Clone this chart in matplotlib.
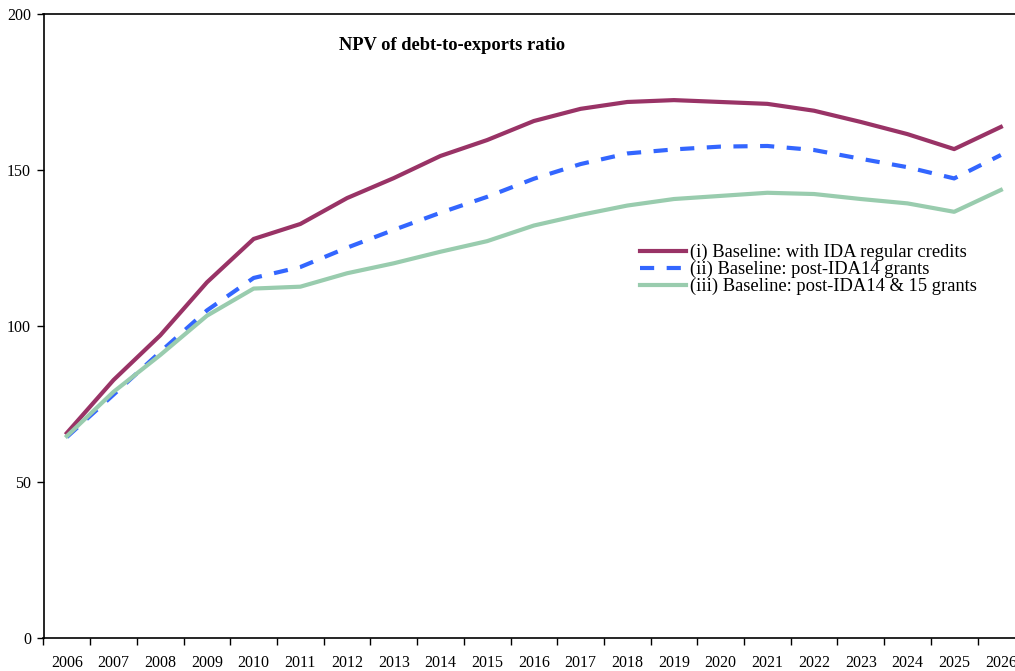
import numpy as np
import matplotlib
matplotlib.use("Agg")
import matplotlib.pyplot as plt
from matplotlib.ticker import FixedLocator, NullFormatter, FixedFormatter

# years on the category axis
years = [str(y) for y in range(2006, 2027)]

# NPV of debt-to-exports ratio, in percent
with_ida_credits = [65.7, 82.7, 97.0, 114.0, 127.9, 132.7, 141.0, 147.4, 154.5, 159.6,
                    165.7, 169.6, 171.8, 172.4, 171.8, 171.2, 169.0, 165.4, 161.5, 156.7, 163.8]
post_ida14 = [64.4, 78.0, 91.7, 105.0, 115.4, 118.9, 125.1, 130.8, 136.3, 141.4,
              147.2, 151.9, 155.3, 156.6, 157.5, 157.7, 156.4, 153.6, 150.9, 147.3, 154.8]
post_ida14_15 = [64.7, 78.9, 90.7, 103.3, 112.0, 112.6, 116.9, 120.1, 123.8, 127.2,
                 132.2, 135.6, 138.6, 140.7, 141.7, 142.7, 142.3, 140.7, 139.3, 136.6, 143.6]

labels = ["(i) Baseline: with IDA regular credits",
          "(ii) Baseline: post-IDA14 grants",
          "(iii) Baseline: post-IDA14 & 15 grants"]

plt.rcParams['font.family'] = ['Liberation Serif', 'DejaVu Serif']

fig = plt.figure(figsize=(10.15, 6.71), dpi=100)
# axes run past the right edge of the page, as in the original export
ax = fig.add_axes([43.5 / 1015, 33 / 671, 980.7 / 1015, 624 / 671])

x = np.arange(len(years))
ax.plot(x, with_ida_credits, color="#993366", lw=3, label=labels[0])
ax.plot(x, post_ida14, color="#3366FF", lw=3, linestyle=(0, (3.4, 3.0)), label=labels[1])
ax.plot(x, post_ida14_15, color="#99CCAE", lw=3, label=labels[2])

ax.set_xlim(-0.5, len(years) - 0.5)
ax.set_ylim(0, 200)
ax.set_yticks([0, 50, 100, 150, 200])
ax.tick_params(axis="y", direction="out", length=5, width=1, labelsize=11.5, pad=4)

# tick marks sit between the categories, labels at the centres
ax.xaxis.set_major_locator(FixedLocator(np.arange(len(years) + 1) - 0.5))
ax.xaxis.set_major_formatter(NullFormatter())
ax.xaxis.set_minor_locator(FixedLocator(x))
ax.xaxis.set_minor_formatter(FixedFormatter(years))
ax.tick_params(axis="x", which="major", direction="out", length=5, width=1)
ax.tick_params(axis="x", which="minor", length=0, labelsize=11.5, pad=12)

for s in ax.spines.values():
    s.set_linewidth(1.2)

fig.text(452 / 1015, 1 - 46 / 671, "NPV of debt-to-exports ratio", ha="center", va="center",
         fontsize=13.3, fontweight="bold")

leg = ax.legend(loc="upper left", bbox_to_anchor=(640 / 1015, 1 - 244 / 671),
                bbox_transform=fig.transFigure, frameon=False, fontsize=13.3,
                handlelength=2.5, handletextpad=0.2, labelspacing=-0.02,
                borderpad=0, borderaxespad=0)

fig.savefig("out.png", dpi=100)
